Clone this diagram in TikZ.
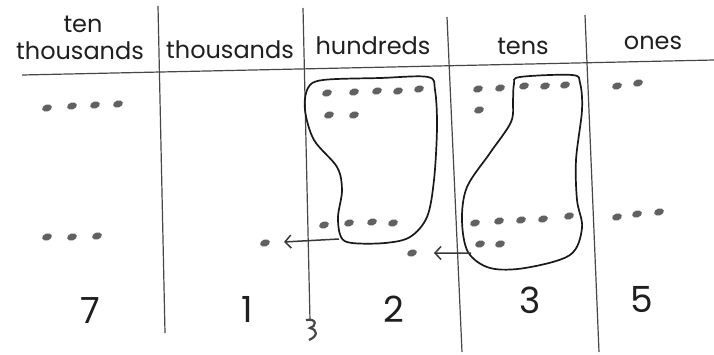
\documentclass[tikz,border=0pt]{standalone}
\usepackage{fontspec}
\setmainfont{Poppins}
\usetikzlibrary{shapes.geometric,arrows.meta}
\begin{document}
\begin{tikzpicture}[x=1pt,y=-1pt,
  grid/.style={draw=black!72, line width=1.2pt},
  blob/.style={draw=black!90, line width=1.7pt},
  dot/.style={ellipse, fill=black!62, minimum width=10pt, minimum height=7pt, inner sep=0pt, rotate=18},
  head/.style={font=\fontsize{24}{24}\selectfont, text=black!88, inner sep=0pt},
  num/.style={font=\fontsize{36}{36}\selectfont, text=black!88, inner sep=0pt},
  carry/.style={draw=black!78, line width=1.5pt, -{Straight Barb[length=6pt,width=13pt]}}]
\useasboundingbox (0,0) rectangle (714,354);
\fill[white] (0,0) rectangle (714,354);
% grid
\draw[grid] (158,6) -- (165,333);
\draw[grid] (303,8) -- (310,321);
\draw[grid] (447,17) -- (462,352);
\draw[grid] (585,15) -- (599,352);
\draw[grid] (22,75) -- (714,60);
\draw[black!72, line width=2.2pt] (306,320) .. controls (318,318) and (316,327) .. (310,328) .. controls (318,330) and (318,336) .. (309,340);
% headers
\node[head] (hten) at (83,24) {ten};
\node[head] (htt) at (80,51) {thousands};
\node[head] (hth) at (230,50) {thousands};
\node[head] (hhu) at (373,46) {hundreds};
\node[head] (hte) at (523,46) {tens};
\node[head] (hon) at (653,43) {ones};
% numbers
\node[num] (n7) at (90,311) {7};
\node[num] (n1) at (247,309) {1};
\node[num] (n2) at (394,309) {2};
\node[num] (n3) at (530,300) {3};
\node[num] (n5) at (642,299) {5};
% dots
\foreach \p [count=\i] in {{47,108},{72,106},{95,105},{118,104}} \node[dot] (tta\i) at (\p) {};
\foreach \p [count=\i] in {{47,237},{72,237},{97,236}} \node[dot] (ttb\i) at (\p) {};
\node[dot] (th) at (265,243) {};
\foreach \p [count=\i] in {{327,93},{354,92},{377,91},{398,91},{419,89}} \node[dot] (ha\i) at (\p) {};
\foreach \p [count=\i] in {{329,115},{354,115}} \node[dot] (hb\i) at (\p) {};
\foreach \p [count=\i] in {{324,225},{349,223},{372,222},{393,223}} \node[dot] (hc\i) at (\p) {};
\node[dot] (hd) at (412,253) {};
\foreach \p [count=\i] in {{478,89},{500,88},{524,86},{545,86},{565,85}} \node[dot] (tea\i) at (\p) {};
\node[dot] (teb1) at (479,110) {};
\foreach \p [count=\i] in {{475,223},{499,221},{521,220},{543,219},{569,216}} \node[dot] (tec\i) at (\p) {};
\foreach \p [count=\i] in {{480,244},{500,244}} \node[dot] (ted\i) at (\p) {};
\foreach \p [count=\i] in {{617,86},{638,83}} \node[dot] (oa\i) at (\p) {};
\foreach \p [count=\i] in {{617,217},{637,214},{659,212}} \node[dot] (ob\i) at (\p) {};
% blobs
\draw[blob] plot[smooth cycle, tension=0.55] coordinates {(428,77) (380,78) (323,80) (308,88) (305,110) (314,140) (337,167) (342,190) (338,217) (341,237) (352,243) (385,243) (410,237) (427,217) (434,180) (437,127) (435,90)};
\draw[blob] plot[smooth cycle, tension=0.55] coordinates {(520,77) (572,75) (580,83) (582,110) (576,160) (577,200) (582,228) (570,255) (525,268) (490,268) (468,252) (462,220) (467,187) (490,153) (511,122) (513,100) (514,84)};
% carries
\coordinate (c1) at (339,239);
\coordinate (c2) at (471,253);
\draw[carry, shorten >=14pt] (c1) -- (th);
\draw[carry, shorten >=17pt] (c2) -- (hd);
\end{tikzpicture}
\end{document}
